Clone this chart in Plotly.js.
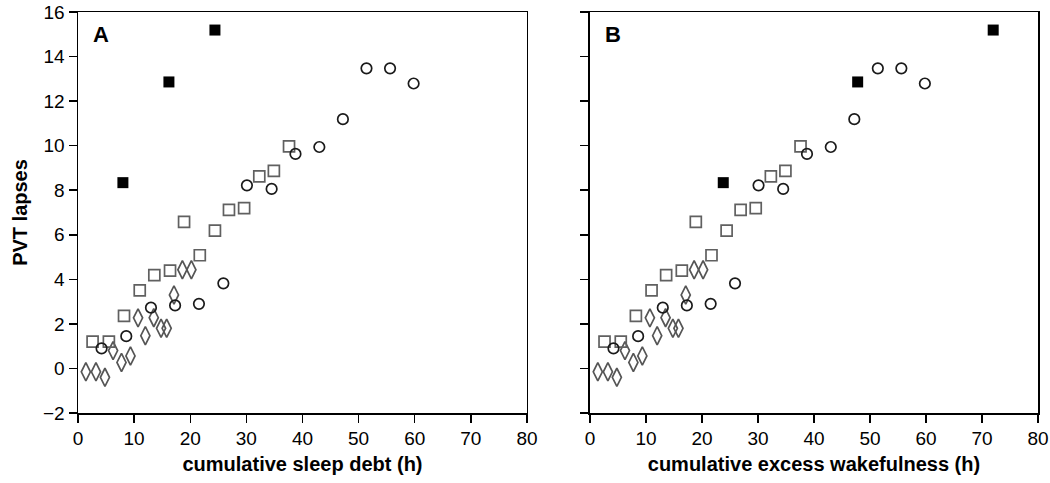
<!DOCTYPE html>
<html>
<head>
<meta charset="utf-8">
<script src="https://cdn.plot.ly/plotly-3.0.1.min.js"></script>
<style>html,body{margin:0;padding:0;background:#fff;}#chart{width:1050px;height:483px;}</style>
</head>
<body>
<div id="chart"></div>
<script>
// Open diamonds (same in both panels)
const diamondX = [1.4, 3.2, 4.8, 6.25, 7.75, 9.35, 10.7, 12.0, 13.5, 14.8, 15.8, 17.1, 18.6, 20.2];
const diamondY = [-0.15, -0.15, -0.4, 0.8, 0.27, 0.56, 2.27, 1.47, 2.28, 1.8, 1.8, 3.3, 4.43, 4.43];
// Open squares (same in both panels)
const squareX = [2.6, 5.5, 8.2, 11.0, 13.6, 16.4, 18.9, 21.7, 24.4, 26.9, 29.6, 32.3, 34.9, 37.6];
const squareY = [1.2, 1.2, 2.36, 3.5, 4.19, 4.39, 6.58, 5.08, 6.19, 7.12, 7.2, 8.62, 8.87, 9.97];
// Open circles (same in both panels)
const circleX = [4.2, 8.6, 13.0, 17.3, 21.55, 25.9, 30.1, 34.5, 38.75, 43.0, 47.2, 51.4, 55.6, 59.8];
const circleY = [0.9, 1.45, 2.73, 2.83, 2.9, 3.82, 8.22, 8.06, 9.63, 9.94, 11.19, 13.47, 13.47, 12.79];
// Filled squares
const filledXA = [8.0, 16.2, 24.4];
const filledXB = [23.8, 47.8, 72.0];
const filledY = [8.34, 12.86, 15.19];

const xTicks = [0, 10, 20, 30, 40, 50, 60, 70, 80];
const yTicks = [-2, 0, 2, 4, 6, 8, 10, 12, 14, 16];
const panelLabels = ['A', 'B'];
const xTitles = ['cumulative sleep debt (h)', 'cumulative excess wakefulness (h)'];
const yTitle = 'PVT lapses';

const FONT = 'Liberation Sans, Arial, sans-serif';

function series(xa, ya, xs, ys, symbol, color, size, filled) {
  return {
    type: 'scatter', mode: 'markers', x: xs, y: ys, xaxis: xa, yaxis: ya,
    showlegend: false, hoverinfo: 'skip',
    marker: {
      symbol: symbol, size: size, color: color,
      line: {color: color, width: filled ? 0 : 1.7}
    }
  };
}

const traces = [];
[['x', 'y', filledXA], ['x2', 'y2', filledXB]].forEach(([xa, ya, fx]) => {
  traces.push(series(xa, ya, diamondX, diamondY, 'diamond-tall-open', '#555', 13, false));
  traces.push(series(xa, ya, squareX, squareY, 'square-open', '#606060', 11, false));
  traces.push(series(xa, ya, circleX, circleY, 'circle-open', '#1a1a1a', 10.5, false));
  traces.push(series(xa, ya, fx, filledY, 'square', '#000', 11, true));
});

function xax(domain, anchor, title) {
  return {
    domain: domain, anchor: anchor, range: [0, 80.0001], tickvals: xTicks,
    ticks: 'outside', ticklen: 8, tickwidth: 1.5, tickcolor: '#000',
    showline: true, linecolor: '#000', linewidth: 1.5, mirror: true,
    showgrid: false, zeroline: false, ticklabeloverflow: 'allow',
    tickfont: {family: FONT, size: 19, color: '#000'},
    title: {text: title, font: {family: FONT, size: 20, color: '#000', weight: 'bold'}, standoff: 8}
  };
}
function yax(anchor, showLabels, title) {
  const a = {
    anchor: anchor, range: [-2.0001, 16.0001], tickvals: yTicks,
    ticks: 'outside', ticklen: 8, tickwidth: 1.5, tickcolor: '#000',
    showline: true, linecolor: '#000', linewidth: 1.5, mirror: true,
    showgrid: false, zeroline: false, showticklabels: showLabels, ticklabeloverflow: 'allow',
    tickfont: {family: FONT, size: 19, color: '#000'}
  };
  if (title) a.title = {text: title, font: {family: FONT, size: 20, color: '#000', weight: 'bold'}, standoff: 10};
  return a;
}

const layout = {
  width: 1050, height: 483,
  margin: {l: 78, r: 12, t: 12, b: 70},
  paper_bgcolor: '#fff', plot_bgcolor: '#fff',
  xaxis: xax([0, 0.4677], 'y', xTitles[0]),
  xaxis2: xax([0.5333, 1], 'y2', xTitles[1]),
  yaxis: yax('x', true, yTitle),
  yaxis2: yax('x2', false, null),
  annotations: [
    {xref: 'x domain', yref: 'y domain', x: 0.03, y: 0.945, xanchor: 'left', yanchor: 'middle',
     text: panelLabels[0], showarrow: false, font: {family: FONT, size: 22, color: '#000', weight: 'bold'}},
    {xref: 'x2 domain', yref: 'y2 domain', x: 0.03, y: 0.945, xanchor: 'left', yanchor: 'middle',
     text: panelLabels[1], showarrow: false, font: {family: FONT, size: 22, color: '#000', weight: 'bold'}}
  ]
};

Plotly.newPlot('chart', traces, layout, {staticPlot: true, displayModeBar: false});
</script>
</body>
</html>
